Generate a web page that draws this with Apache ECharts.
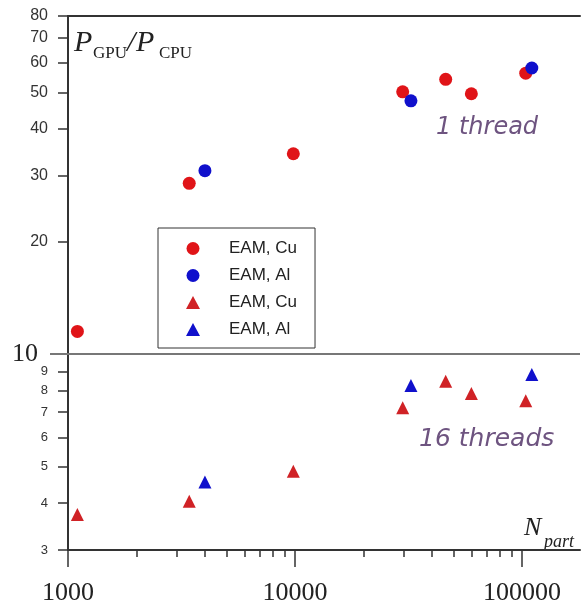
<!DOCTYPE html>
<html>
<head>
<meta charset="utf-8">
<script src="https://cdn.jsdelivr.net/npm/echarts@6/dist/echarts.min.js"></script>
<style>
html,body{margin:0;padding:0;background:#fff;}
#chart{width:582px;height:608px;}
</style>
</head>
<body>
<div id="chart"></div>
<script>
// ---- data ----
var nCu1  = [1100, 3420, 9830, 29800, 46100, 59800, 103800];
var pCu1  = [11.5, 28.6, 34.3, 50.2, 54.2, 49.6, 56.3];
var nAl1  = [4010, 32400, 110400];
var pAl1  = [30.9, 47.5, 58.1];
var nCu16 = [1100, 3420, 9830, 29800, 46100, 59800, 103800];
var pCu16 = [3.73, 4.05, 4.87, 7.19, 8.47, 7.85, 7.51];
var nAl16 = [4010, 32400, 110400];
var pAl16 = [4.56, 8.25, 8.83];

var seriesKeys  = ['cu1', 'al1', 'cu16', 'al16'];
var seriesNames = ['EAM, Cu', 'EAM, Al', 'EAM, Cu', 'EAM, Al'];

var yTickValues = [3, 4, 5, 6, 7, 8, 9, 20, 30, 40, 50, 60, 70, 80];
var yMidValue   = 10;
var xMajorTicks = [1000, 10000, 100000];
var xMinorTicks = [2000, 3000, 4000, 5000, 6000, 7000, 8000, 9000,
                   20000, 30000, 40000, 50000, 60000, 70000, 80000, 90000];

function zip(xs, ys) { return xs.map(function (x, i) { return [x, ys[i]]; }); }

var chart = echarts.init(document.getElementById('chart'), null, {renderer: 'canvas'});

var RED = '#e01418', RED_T = '#d02226', BLUE = '#1010cc';
var serifFont = 'Liberation Serif';

function scatter(key, data, symbol, color, withLine) {
  var s = {
    name: key,
    type: 'scatter',
    xAxisIndex: 0,
    yAxisIndex: 0,
    symbol: symbol,
    symbolSize: 13,
    itemStyle: {color: color, opacity: 1},
    data: data,
    silent: true,
    z: 5
  };
  if (withLine) {
    s.markLine = {
      silent: true,
      symbol: 'none',
      label: {show: false},
      lineStyle: {color: '#777', width: 2, type: 'solid'},
      data: [{yAxis: yMidValue}],
      z: 1
    };
  }
  return s;
}

var option = {
  animation: false,
  backgroundColor: '#fff',
  grid: {left: 68, top: 16, right: 2, bottom: 58, outerBoundsMode: 'none', containLabel: false},
  legend: {
    orient: 'vertical',
    left: 158,
    top: 228,
    padding: [12, 18, 10, 28],
    itemWidth: 14,
    itemHeight: 13,
    itemGap: 10,
    backgroundColor: '#fff',
    borderColor: '#333',
    borderWidth: 1,
    borderRadius: 0,
    data: seriesKeys,
    formatter: function (k) { return seriesNames[seriesKeys.indexOf(k)]; },
    textStyle: {fontFamily: 'Liberation Sans', fontSize: 17, color: '#222', padding: [0, 0, 0, 24]},
    selectedMode: false
  },
  xAxis: [
    {
      type: 'log', logBase: 10, min: 1000, max: 180000, position: 'bottom',
      axisLine: {show: true, lineStyle: {color: '#333', width: 2}},
      axisTick: {show: true, customValues: xMajorTicks, length: 17, inside: false, lineStyle: {color: '#333', width: 1.5}},
      axisLabel: {show: true, customValues: xMajorTicks, margin: 30,
        fontFamily: serifFont, fontSize: 26, color: '#222',
        formatter: function (v) { return String(Math.round(v)); }},
      splitLine: {show: false}, minorTick: {show: false}
    },
    {
      type: 'log', logBase: 10, min: 1000, max: 180000, position: 'bottom',
      axisLine: {show: false},
      axisTick: {show: true, customValues: xMinorTicks, length: 7, lineStyle: {color: '#333', width: 1.5}},
      axisLabel: {show: false},
      splitLine: {show: false}
    },
    {
      type: 'log', logBase: 10, min: 1000, max: 180000, position: 'top',
      axisLine: {show: true, lineStyle: {color: '#333', width: 2}},
      axisTick: {show: false}, axisLabel: {show: false}, splitLine: {show: false}
    }
  ],
  yAxis: [
    {
      type: 'log', logBase: 10, min: 3, max: 80, position: 'left',
      axisLine: {show: true, lineStyle: {color: '#333', width: 2}},
      axisTick: {show: true, customValues: yTickValues, length: 10, lineStyle: {color: '#333', width: 1.5}},
      axisLabel: {show: true, customValues: yTickValues, margin: 20, color: '#333',
        formatter: function (v) {
          var r = Math.round(v);
          return r >= 20 ? '{a|' + r + '}' : '{b|' + r + '}';
        },
        rich: {
          a: {fontFamily: 'Liberation Sans', fontSize: 16, color: '#333'},
          b: {fontFamily: 'Liberation Sans', fontSize: 13, color: '#333'}
        }
      },
      splitLine: {show: false}
    },
    {
      type: 'log', logBase: 10, min: 3, max: 80, position: 'left',
      axisLine: {show: false},
      axisTick: {show: true, customValues: [yMidValue], length: 18, lineStyle: {color: '#777', width: 2}},
      axisLabel: {show: true, customValues: [yMidValue], margin: 30,
        fontFamily: serifFont, fontSize: 26, color: '#222',
        formatter: function (v) { return String(Math.round(v)); }},
      splitLine: {show: false}
    }
  ],
  series: [
    scatter('cu1', zip(nCu1, pCu1), 'circle', RED, true),
    scatter('al1', zip(nAl1, pAl1), 'circle', BLUE, false),
    scatter('cu16', zip(nCu16, pCu16), 'triangle', RED_T, false),
    scatter('al16', zip(nAl16, pAl16), 'triangle', BLUE, false)
  ],
  graphic: [
    {type: 'text', x: 436, y: 128, silent: true,
     style: {text: '1 thread', fill: '#6e5480', font: 'italic 24px "DejaVu Sans"', textAlign: 'left', textVerticalAlign: 'middle'}},
    {type: 'text', x: 419, y: 439, silent: true,
     style: {text: '16 threads', fill: '#6e5480', font: 'italic 25px "DejaVu Sans"', textAlign: 'left', textVerticalAlign: 'middle'}},
    {type: 'text', x: 74, y: 43, silent: true,
     style: {text: 'P', fill: '#222', font: 'italic 30px "Liberation Serif"', textAlign: 'left', textVerticalAlign: 'middle'}},
    {type: 'text', x: 93, y: 54, silent: true,
     style: {text: 'GPU', fill: '#222', font: '17px "Liberation Serif"', textAlign: 'left', textVerticalAlign: 'middle'}},
    {type: 'text', x: 127, y: 43, silent: true,
     style: {text: '/', fill: '#222', font: 'italic 30px "Liberation Serif"', textAlign: 'left', textVerticalAlign: 'middle'}},
    {type: 'text', x: 136, y: 43, silent: true,
     style: {text: 'P', fill: '#222', font: 'italic 30px "Liberation Serif"', textAlign: 'left', textVerticalAlign: 'middle'}},
    {type: 'text', x: 159, y: 54, silent: true,
     style: {text: 'CPU', fill: '#222', font: '17px "Liberation Serif"', textAlign: 'left', textVerticalAlign: 'middle'}},
    {type: 'text', x: 524, y: 528, silent: true,
     style: {text: 'N', fill: '#222', font: 'italic 26px "Liberation Serif"', textAlign: 'left', textVerticalAlign: 'middle'}},
    {type: 'text', x: 544, y: 542, silent: true,
     style: {text: 'part', fill: '#222', font: 'italic 18px "Liberation Serif"', textAlign: 'left', textVerticalAlign: 'middle'}}
  ]
};

chart.setOption(option);
</script>
</body>
</html>
